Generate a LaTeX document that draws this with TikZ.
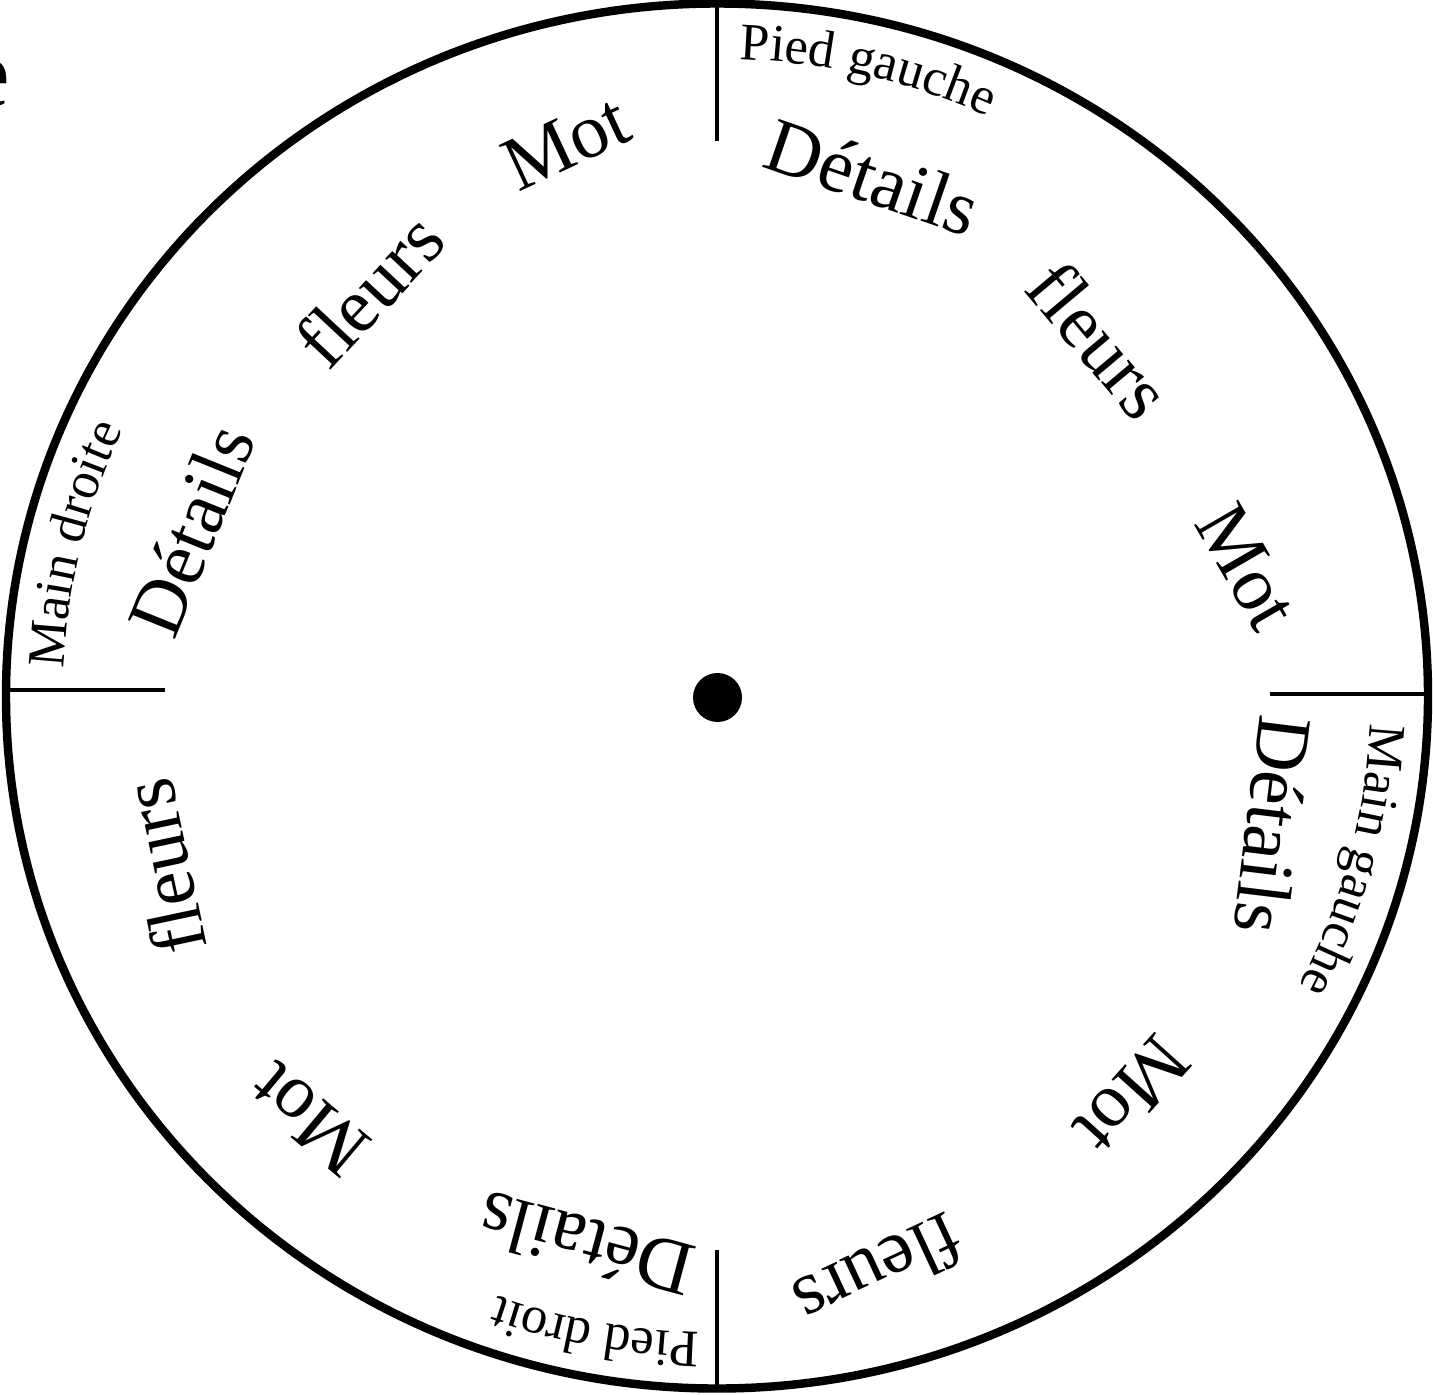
\documentclass[tikz,border=0pt]{standalone}
\usepackage{fontspec}
\setmainfont{Liberation Serif}
\usetikzlibrary{decorations.text}

\newcommand{\wordfont}{\fontsize{22}{26}\selectfont}
\newcommand{\labelfont}{\fontsize{15}{18}\selectfont}

\begin{document}
\begin{tikzpicture}[
  rim/.style={line width=2.4pt},
  divider/.style={line width=1.4pt},
  word/.style={font=\wordfont, inner sep=0pt},
  arclabel/.style={decorate, decoration={text along path, text align=left,
                   text={|\labelfont|#1}}}
]
\useasboundingbox (-7.17,-6.98) rectangle (7.16,6.96);

% rim, hub and the four dividers
\draw[rim] (0,0) ellipse [x radius=7.11, y radius=6.925];
\fill (0.005,-0.015) circle (0.245);
\draw[divider] (0,5.55) -- (0,6.93);
\draw[divider] (5.53,0.02) -- (7.11,0.02);
\draw[divider] (0,-5.54) -- (0,-6.93);
\draw[divider] (-7.11,0.06) -- (-5.52,0.06);

% small labels along the rim
\path[arclabel=Pied gauche] (88:6.54 and 6.37)
  arc[start angle=88, end angle=45, x radius=6.54, y radius=6.37];
\path[arclabel=Main gauche] (-2.5:6.54 and 6.37)
  arc[start angle=-2.5, end angle=-45, x radius=6.54, y radius=6.37];
\path[arclabel=Pied droit] (-91.5:6.54 and 6.37)
  arc[start angle=-91.5, end angle=-135, x radius=6.54, y radius=6.37];
\path[arclabel=Main droite] (177.5:6.54 and 6.37)
  arc[start angle=177.5, end angle=135, x radius=6.54, y radius=6.37];

% words, quadrant by quadrant
\node[word, rotate=-19]  (detTR) at (1.56,5.19)   {Détails};
\node[word, rotate=-50]  (fleTR) at (3.83,3.56)   {fleurs};
\node[word, rotate=-60]  (motTR) at (5.30,1.29)   {Mot};

\node[word, rotate=-97]  (detBR) at (5.56,-1.29)  {Détails};
\node[word, rotate=-132] (motBR) at (4.15,-3.99)  {Mot};
\node[word, rotate=-155] (fleBR) at (1.62,-5.76)  {fleurs};

\node[word, rotate=165]  (detBL) at (-1.31,-5.49) {Détails};
\node[word, rotate=140]  (motBL) at (-4.08,-4.23) {Mot};
\node[word, rotate=102]  (fleBL) at (-5.54,-1.71) {fleurs};

\node[word, rotate=68]   (detTL) at (-5.26,1.66)  {Détails};
\node[word, rotate=47]   (fleTL) at (-3.48,4.06)  {fleurs};
\node[word, rotate=25]   (motTL) at (-1.51,5.53)  {Mot};

% cut-off letter at the page edge
\node[font=\fontsize{28}{32}\selectfont, anchor=base east, inner sep=0pt]
  (cut) at (-7.06,5.89) {e};
\end{tikzpicture}
\end{document}
